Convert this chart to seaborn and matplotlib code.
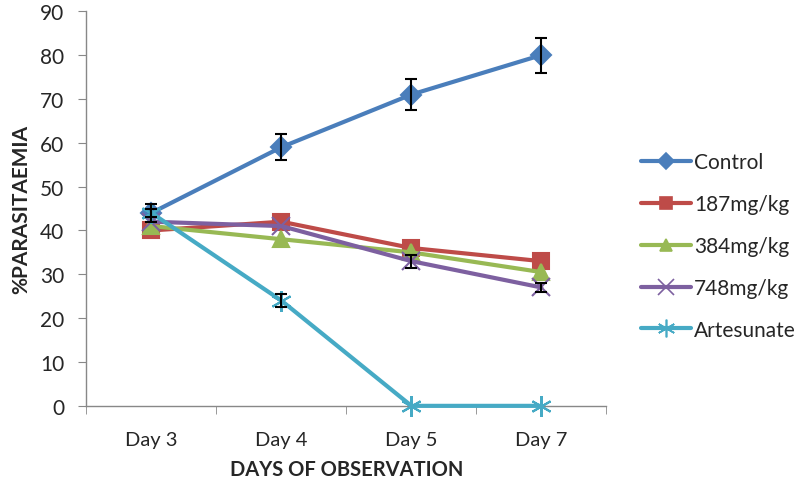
import seaborn as sns
import matplotlib.pyplot as plt
import pandas as pd

days = ['Day 3', 'Day 4', 'Day 5', 'Day 7']
groups = ['Control', '187mg/kg', '384mg/kg', '748mg/kg', 'Artesunate']
control = [44, 59, 71, 80]
dose_187 = [40, 42, 36, 33]
dose_384 = [41, 38, 35, 30.5]
dose_748 = [42, 41, 33, 27]
artesunate = [44, 24, 0, 0]
control_err = [2, 3, 3.5, 4]
dose_187_err = [0, 0, 0, 0]
dose_384_err = [0, 0, 0, 0]
dose_748_err = [0, 0, 1.5, 1]
artesunate_err = [1, 1.5, 0, 0]

colors = ['#4a7ebb', '#be4b48', '#98b954', '#7d60a0', '#46aac5']
markers = ['D', 's', '^', 'x', (6, 2, 0)]
msizes = [10, 11, 11, 13, 15]

values = [control, dose_187, dose_384, dose_748, artesunate]
errors = [control_err, dose_187_err, dose_384_err, dose_748_err, artesunate_err]
rows = []
for g, vals, errs in zip(groups, values, errors):
    for i, (d, v, e) in enumerate(zip(days, vals, errs)):
        rows.append({'pos': i, 'day': d, 'group': g, 'value': v, 'err': e})
df = pd.DataFrame(rows)

sns.set_style('white')
plt.rcParams['font.family'] = ['Lato', 'DejaVu Sans']

fig = plt.figure(figsize=(8, 4.89), dpi=100)
ax = fig.add_axes([0.108, 0.168, 0.65, 0.807])

for g, c, m, ms in zip(groups, colors, markers, msizes):
    sub = df[df['group'] == g]
    sns.lineplot(data=sub, x='pos', y='value', color=c, marker=m,
                 linewidth=3, markersize=ms, markeredgewidth=1.5,
                 markerfacecolor=c, markeredgecolor=c, ax=ax, legend=False,
                 clip_on=False, zorder=3)

for g in groups:
    sub = df[(df['group'] == g) & (df['err'] > 0)]
    ax.errorbar(sub['pos'], sub['value'], yerr=sub['err'], fmt='none',
                ecolor='black', elinewidth=1.5, capsize=4, capthick=1.5, zorder=5)

ax.set_xlim(-0.5, 3.5)
ax.set_ylim(0, 90)
ax.set_yticks(range(0, 91, 10))
ax.set_xticks(range(len(days)))
ax.set_xticklabels(days)
ax.set_xticks([-0.5, 0.5, 1.5, 2.5, 3.5], minor=True)
ax.tick_params(axis='x', which='major', length=0, labelsize=14.5, pad=18)
ax.tick_params(axis='x', which='minor', length=6, color='#888888', direction='out')
ax.tick_params(axis='y', length=6, color='#888888', direction='out', labelsize=15, pad=10)
ax.xaxis.set_ticks_position('bottom')
ax.yaxis.set_ticks_position('left')
sns.despine(ax=ax)
for s in ['left', 'bottom']:
    ax.spines[s].set_color('#888888')
    ax.spines[s].set_linewidth(1)
    ax.spines[s].set_zorder(1)

ax.set_xlabel('DAYS OF OBSERVATION', fontsize=14.5, fontweight='bold', labelpad=8)
ax.set_ylabel('%PARASITAEMIA', fontsize=15, fontweight='bold', labelpad=6)

handles = [plt.Line2D([], [], color=c, marker=m, linewidth=3, markersize=ms * 0.85,
                      markerfacecolor=c, markeredgecolor=c, markeredgewidth=1.2)
           for c, m, ms in zip(colors, markers, msizes)]
ax.legend(handles, groups, loc='center left', bbox_to_anchor=(1.03, 0.405),
          frameon=False, fontsize=15, handlelength=2.4, handletextpad=0.15,
          labelspacing=1.05)

fig.savefig('out.png', dpi=100)
